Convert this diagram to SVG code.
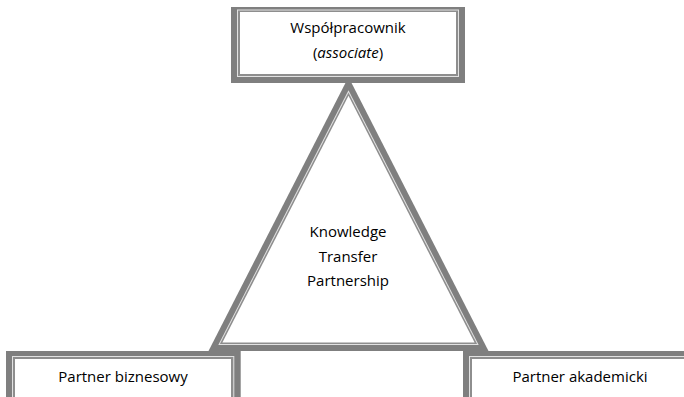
<svg xmlns="http://www.w3.org/2000/svg" width="684" height="397" viewBox="0 0 684 397">
<style>
.band{fill:#7f7f7f}
.hl{fill:#e2e2e2}
.thin{fill:#8e8e8e}
.in{fill:#ffffff}
.t{font-family:"Open Sans","Liberation Sans",sans-serif;font-size:15px;fill:#000;text-anchor:middle}
</style>
<rect width="684" height="397" fill="#fff"/>
<g id="node-ktp">
<polygon class="band" points="348.5,77 208.5,351 488.5,351"/>
<polygon class="hl" points="348.5,90.2 218.3,345 478.7,345"/>
<polygon class="thin" points="348.5,92.4 219.9,344 477.1,344"/>
<polygon class="in" points="348.5,95.7 222.4,342.5 474.6,342.5"/>
<text class="t" x="348" y="237">Knowledge</text>
<text class="t" x="348" y="261.5">Transfer</text>
<text class="t" x="348" y="285.5">Partnership</text>
</g>
<g id="node-associate">
<rect class="band" x="231" y="7" width="234" height="76"/>
<rect class="hl" x="237" y="9.5" width="222" height="67.5"/>
<rect class="thin" x="238" y="10.5" width="220" height="65.5"/>
<rect class="in" x="240" y="12" width="216" height="62"/>
<text class="t" x="348" y="33">Współpracownik</text>
<text class="t" x="348" y="57.5">(<tspan font-style="italic">associate</tspan>)</text>
</g>
<g id="node-business">
<rect class="band" x="6" y="351" width="234.7" height="60"/>
<rect class="hl" x="12" y="356" width="222.3" height="60"/>
<rect class="thin" x="13" y="357" width="220.3" height="60"/>
<rect class="in" x="15" y="359" width="216" height="60"/>
<text class="t" x="123" y="381.5">Partner biznesowy</text>
</g>
<g id="node-academic">
<rect class="band" x="463" y="351" width="240" height="60"/>
<rect class="hl" x="469" y="356" width="240" height="60"/>
<rect class="thin" x="470" y="357" width="240" height="60"/>
<rect class="in" x="472" y="359" width="240" height="60"/>
<text class="t" x="580" y="381.5">Partner akademicki</text>
</g>
</svg>
